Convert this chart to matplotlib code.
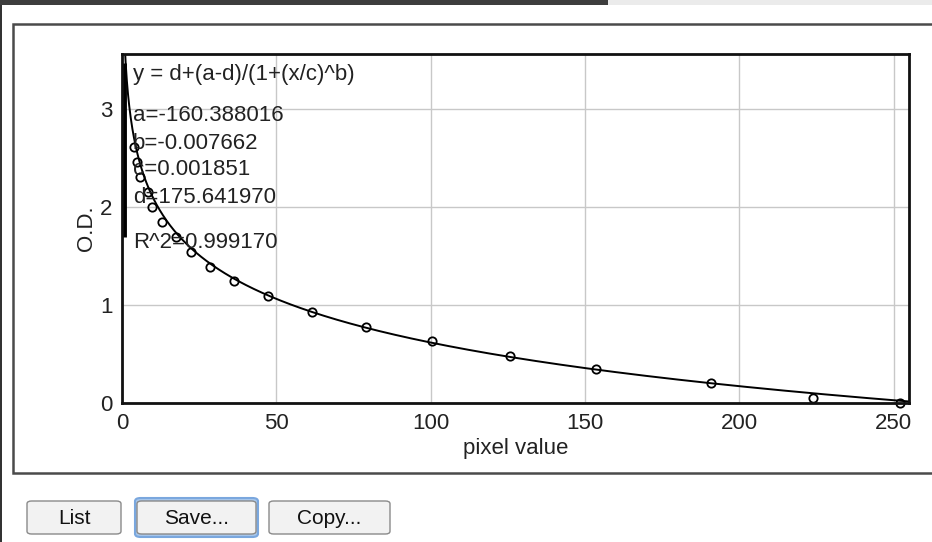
import numpy as np
import matplotlib.pyplot as plt
from matplotlib.patches import FancyBboxPatch, Rectangle

plt.rcParams["font.family"] = ["Liberation Sans", "DejaVu Sans"]

# measured points (pixel value -> O.D.)
pixel = [3.9, 4.9, 5.8, 8.4, 9.7, 12.9, 17.5, 22.3, 28.5, 36.2, 47.2, 61.5,
         79.0, 100.5, 125.6, 153.7, 191.0, 224.0, 252.0]
od = [2.61, 2.46, 2.31, 2.15, 2.00, 1.85, 1.69, 1.54, 1.39, 1.24, 1.09, 0.93,
      0.78, 0.63, 0.48, 0.35, 0.20, 0.05, 0.00]

# fit parameters shown in the window
fit_a = -160.388016
fit_b = -0.007662
fit_c = 0.001851
fit_d = 175.641970
r2 = 0.999170

# the heavy stroke the fit leaves along the y axis near x = 0
left_stroke_x = 0.6
left_stroke_od = [1.69, 3.47]

x_ticks = [0, 50, 100, 150, 200, 250]
y_ticks = [0, 1, 2, 3]

W, H = 932, 542
fig = plt.figure(figsize=(W / 100, H / 100), dpi=100)


def fx(px):
    return px / W


def fy(py):
    return 1 - py / H


def add(patch, z=-5):
    patch.set_transform(fig.transFigure)
    patch.set_zorder(z)
    fig.patches.append(patch)


# window chrome
add(Rectangle((0, fy(5)), fx(608), 5 / H, facecolor="#3d3d3d", edgecolor="none"))
add(Rectangle((fx(608), fy(5)), 1 - fx(608), 5 / H, facecolor="#ebebeb", edgecolor="none"))
add(Rectangle((0, 0), 1.5 / W, fy(5), facecolor="#333333", edgecolor="none"))
add(Rectangle((fx(13), fy(473)), fx(935 - 13), (473 - 24) / H, facecolor="white",
              edgecolor="#4a4a4a", linewidth=1.8))

ax = fig.add_axes((fx(122), fy(403), fx(909 - 122), (403 - 54) / H))
ax.set_zorder(2)
ax.set_xlim(0, 255)
ax.set_ylim(0, 3.56)
ax.set_xticks(x_ticks)
ax.set_yticks(y_ticks)
ax.grid(True, color="#c8c8c8", linewidth=1.0)
ax.set_axisbelow(True)
ax.tick_params(length=0, labelsize=16, pad=7, colors="#222222")
for s in ax.spines.values():
    s.set_linewidth(2.0)
    s.set_color("#111111")

xs = np.linspace(0.3, 255, 2000)
ys = fit_d + (fit_a - fit_d) / (1 + (xs / fit_c) ** fit_b)
ax.plot(xs, ys, color="black", linewidth=1.4, clip_on=True)
ax.plot([left_stroke_x, left_stroke_x], left_stroke_od, color="black",
        linewidth=3.5, solid_capstyle="butt")
ax.plot(pixel, od, linestyle="none", marker="o", markersize=6,
        markerfacecolor="none", markeredgecolor="black", markeredgewidth=1.3,
        clip_on=False)

ax.set_xlabel("pixel value", fontsize=16, labelpad=3, color="#222222")
ax.set_ylabel("O.D.", fontsize=16, labelpad=2, color="#222222")

tx = 11 / 3.09
info = [
    ("y = d+(a-d)/(1+(x/c)^b)", 3.35),
    (f"a={fit_a:.6f}", 2.93),
    (f"b={fit_b:.6f}", 2.65),
    (f"c={fit_c:.6f}", 2.38),
    (f"d={fit_d:.6f}", 2.10),
    (f"R^2={r2:.6f}", 1.64),
]
for s, yv in info:
    ax.text(tx, yv, s, fontsize=16, va="center", ha="left", color="#222222")

# buttons
buttons = [("List", 27, 121, False), ("Save...", 137, 256, True), ("Copy...", 269, 390, False)]
for label, x0, x1, focus in buttons:
    if focus:
        add(FancyBboxPatch((fx(x0 - 2), fy(537)), fx(x1 - x0 + 4), 39 / H,
                           boxstyle="round,pad=0,rounding_size=0.006",
                           facecolor="#a9c8ec", edgecolor="#7aa7de", linewidth=1.5), z=1)
    add(FancyBboxPatch((fx(x0), fy(534)), fx(x1 - x0), 33 / H,
                       boxstyle="round,pad=0,rounding_size=0.005",
                       facecolor="#f2f2f2", edgecolor="#8a8a8a", linewidth=1.0), z=1)
    fig.text(fx((x0 + x1) / 2), fy(518), label, fontsize=15, ha="center", va="center",
             color="#111111", zorder=3)

fig.savefig("out.png", dpi=100)
